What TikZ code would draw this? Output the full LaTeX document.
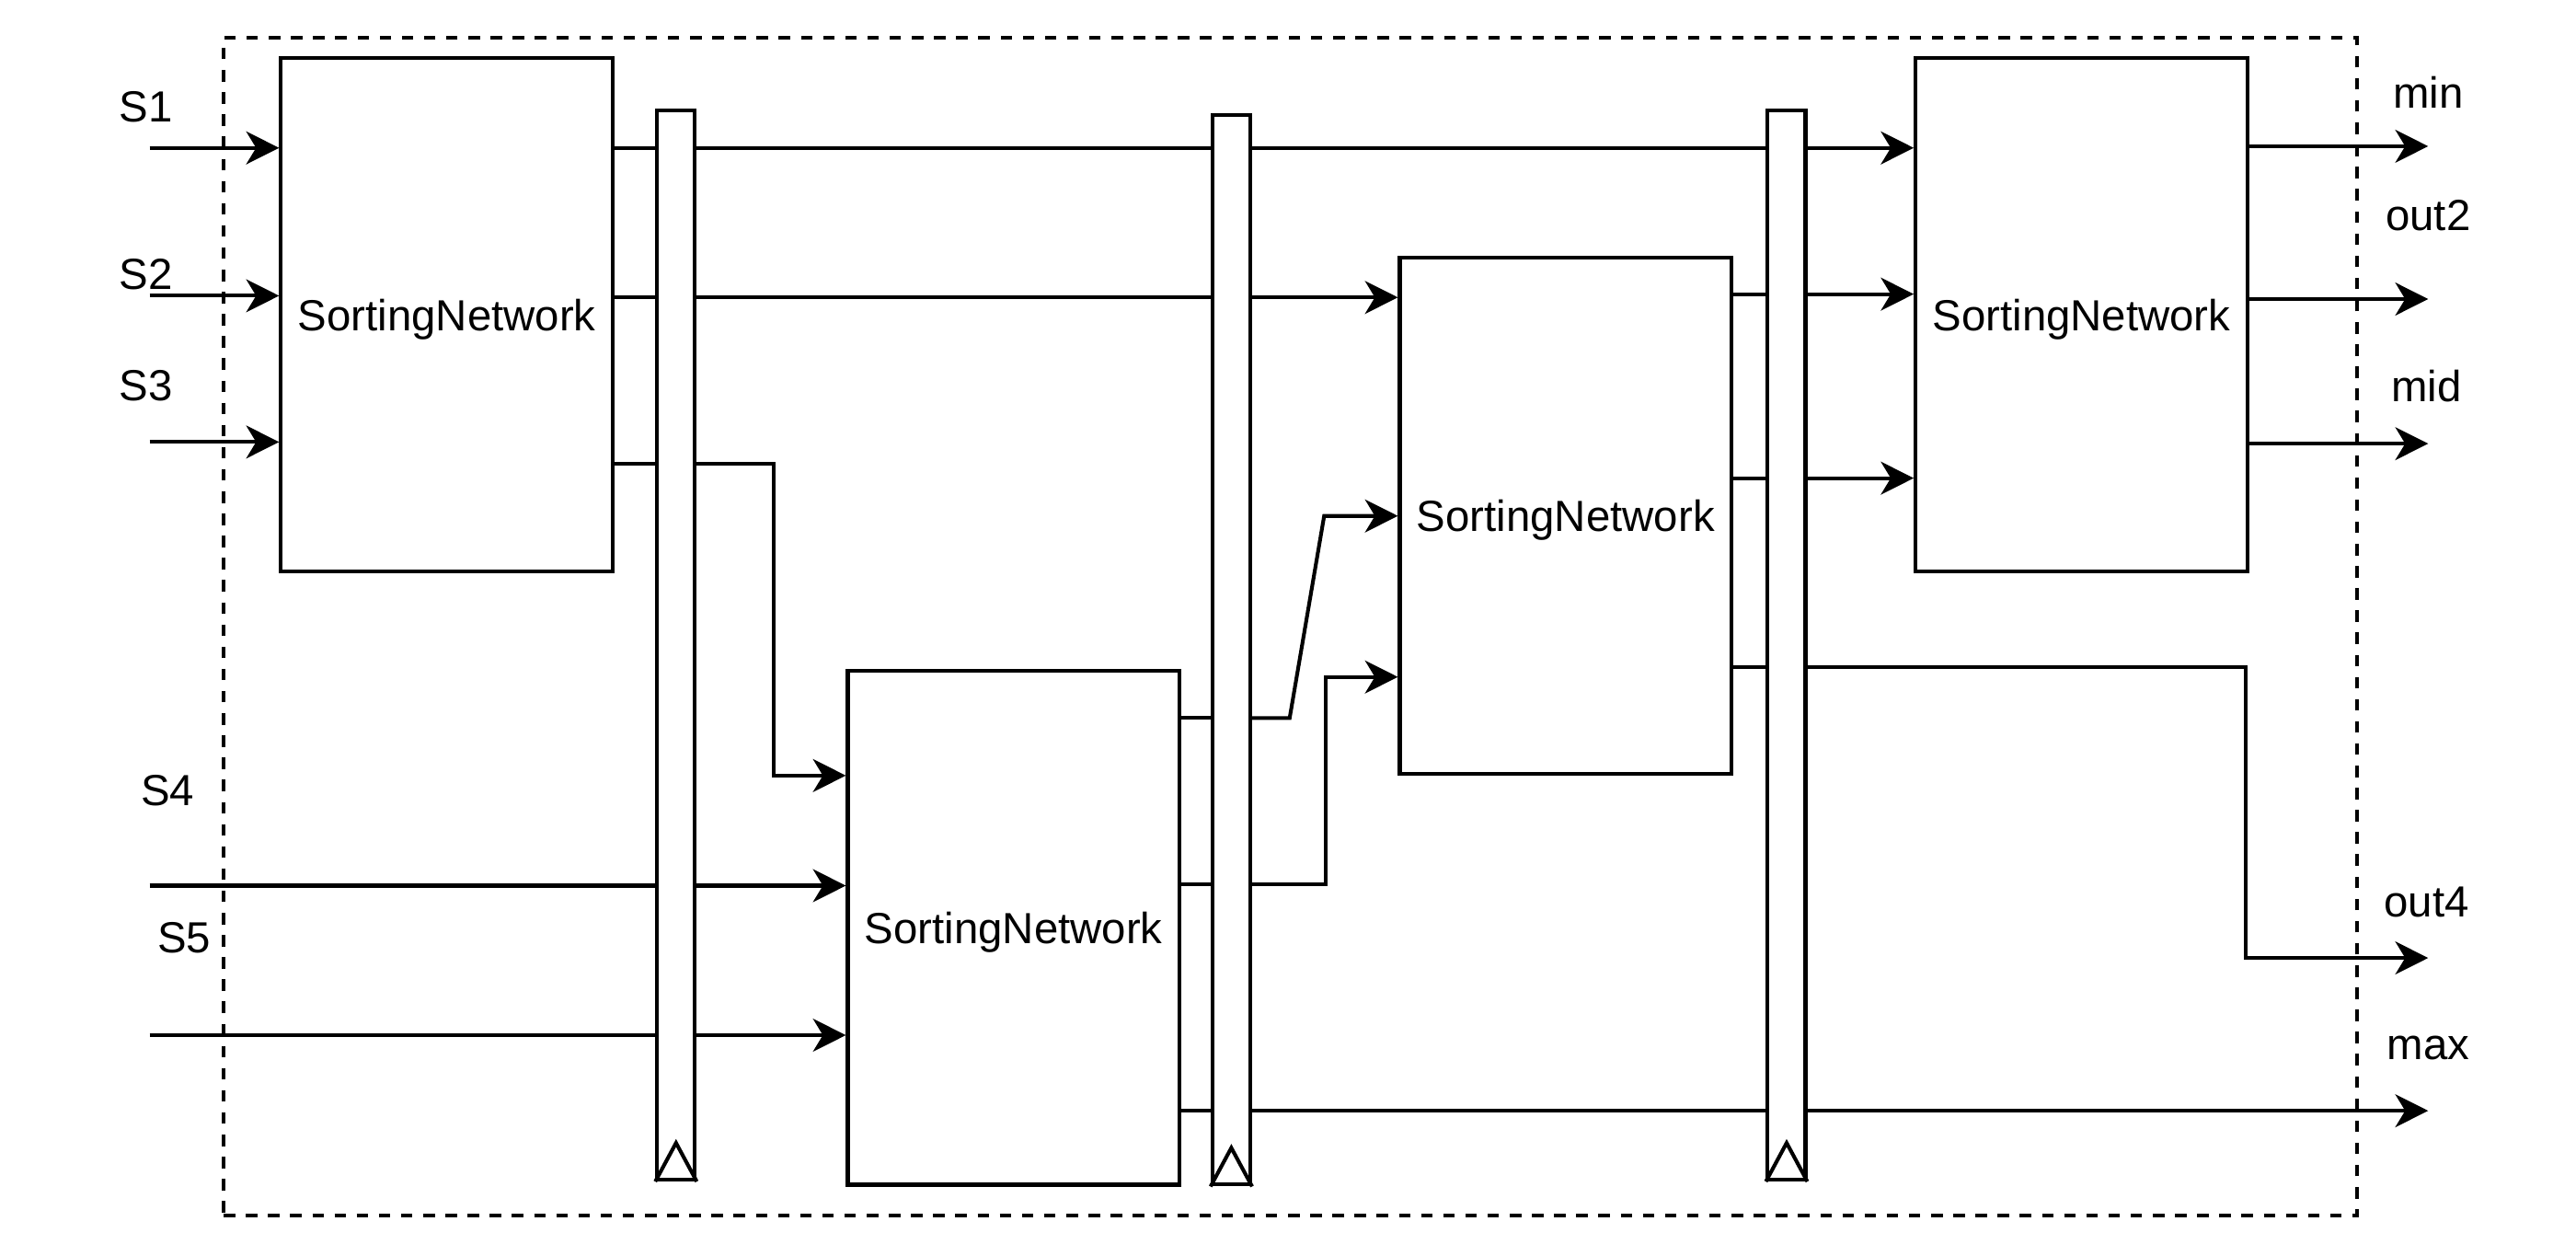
\documentclass[tikz,border=0pt]{standalone}
\usepackage{fontspec}
\setmainfont{Liberation Sans}
\usetikzlibrary{arrows.meta,calc}
\begin{document}
\begin{tikzpicture}[x=0.02cm,y=-0.02cm,line width=1.3pt,
  txt/.style={font=\fontsize{15.1}{17}\selectfont},
  sn/.style={draw,txt,minimum width=4.04cm,minimum height=6.26cm,inner sep=0pt,text depth=0pt},
  reg/.style={draw,minimum width=0.46cm,minimum height=13.02cm,inner sep=0pt},
  frame/.style={draw,line width=1.2pt,dash pattern={on 0.14cm off 0.13cm},minimum width=25.98cm,minimum height=14.34cm,inner sep=0pt},
  arr/.style={-{Stealth[length=0.4cm,width=0.4cm,inset=0.12cm]}},
  lbl/.style={txt,inner sep=0pt}]
\useasboundingbox (0,0) rectangle (1568,764);
% frame
\node[frame] (fr) at (785.5,381.5) {};
% sorting networks
\node[sn] (sn1) at (272,191.5) {SortingNetwork};
\node[sn] (sn2) at (617,564.5) {SortingNetwork};
\node[sn,minimum height=6.28cm] (sn3) at (953,314) {SortingNetwork};
\node[sn] (sn4) at (1267,191.5) {SortingNetwork};
% registers
\node[reg] (r1) at (411.5,392.5) {};
\node[reg] (r2) at (749.5,395.5) {};
\node[reg] (r3) at (1087.5,392.5) {};
\foreach \r in {r1,r2,r3}{
  \draw (\r.south west) -- ([yshift=0.47cm]\r.south) -- (\r.south east);
}
% labels
\node[lbl] (ls1) at (89,65) {S1};
\node[lbl] (ls2) at (89,167) {S2};
\node[lbl] (ls3) at (89,235) {S3};
\node[lbl] (ls4) at (102,481) {S4};
\node[lbl] (ls5) at (112,571) {S5};
\node[lbl] (lmin) at (1478,56) {min};
\node[lbl] (lout2) at (1478,131) {out2};
\node[lbl] (lmid) at (1477,235) {mid};
\node[lbl] (lout4) at (1477,549) {out4};
\node[lbl] (lmax) at (1478,638) {max};
% row coordinates
\coordinate (s1in) at (91,90);
\coordinate (s2in) at (91,180);
\coordinate (s3in) at (91,269);
\coordinate (s4in) at (91,539);
\coordinate (s5in) at (91,630);
\coordinate (ya) at (0,90);
\coordinate (yb) at (0,181);
\coordinate (yc) at (0,282);
\coordinate (k1) at (471,472);
\coordinate (yf) at (0,437);
\coordinate (k2) at (785,437);
\coordinate (k3) at (806,314);
\coordinate (yg) at (0,538);
\coordinate (k4) at (807,412);
\coordinate (yh) at (0,676);
\coordinate (yi) at (0,179);
\coordinate (yj) at (0,291);
\coordinate (yk) at (0,406);
\coordinate (k5) at (1367,583);
\coordinate (minend) at (1478,89);
\coordinate (out2end) at (1478,182);
\coordinate (midend) at (1478,270);
\coordinate (out4end) at (1478,583);
\coordinate (maxend) at (1478,676);
% inputs
\draw[arr] (s1in) -- (sn1.west |- s1in);
\draw[arr] (s2in) -- (sn1.west |- s2in);
\draw[arr] (s3in) -- (sn1.west |- s3in);
\draw (s4in) -- (r1.west |- s4in);
\draw[arr] (r1.east |- s4in) -- (sn2.west |- s4in);
\draw (s5in) -- (r1.west |- s5in);
\draw[arr] (r1.east |- s5in) -- (sn2.west |- s5in);
% SN1 outputs
\draw (sn1.east |- ya) -- (r1.west |- ya);
\draw (r1.east |- ya) -- (r2.west |- ya);
\draw (r2.east |- ya) -- (r3.west |- ya);
\draw[arr] (r3.east |- ya) -- (sn4.west |- ya);
\draw (sn1.east |- yb) -- (r1.west |- yb);
\draw (r1.east |- yb) -- (r2.west |- yb);
\draw[arr] (r2.east |- yb) -- (sn3.west |- yb);
\draw (sn1.east |- yc) -- (r1.west |- yc);
\draw[arr] (r1.east |- yc) -| (k1) -- (sn2.west |- k1);
% SN2 outputs
\draw (sn2.east |- yf) -- (r2.west |- yf);
\draw[arr] (r2.east |- yf) -- (k2) -- (k3) -- (sn3.west |- k3);
\draw (sn2.east |- yg) -- (r2.west |- yg);
\draw[arr] (r2.east |- yg) -| (k4) -- (sn3.west |- k4);
\draw (sn2.east |- yh) -- (r2.west |- yh);
\draw (r2.east |- yh) -- (r3.west |- yh);
\draw[arr] (r3.east |- yh) -- (maxend);
% SN3 outputs
\draw (sn3.east |- yi) -- (r3.west |- yi);
\draw[arr] (r3.east |- yi) -- (sn4.west |- yi);
\draw (sn3.east |- yj) -- (r3.west |- yj);
\draw[arr] (r3.east |- yj) -- (sn4.west |- yj);
\draw (sn3.east |- yk) -- (r3.west |- yk);
\draw[arr] (r3.east |- yk) -| (k5) -- (out4end);
% SN4 outputs
\draw[arr] (sn4.east |- minend) -- (minend);
\draw[arr] (sn4.east |- out2end) -- (out2end);
\draw[arr] (sn4.east |- midend) -- (midend);
\end{tikzpicture}
\end{document}
